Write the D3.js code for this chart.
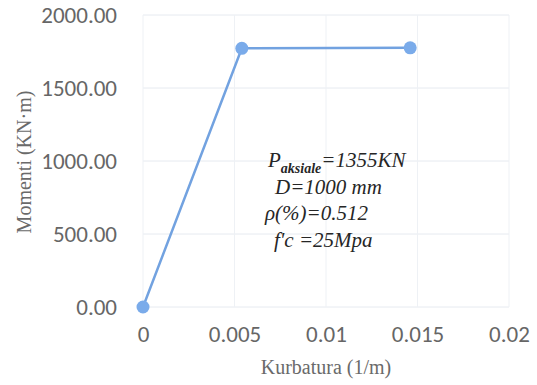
<!DOCTYPE html>
<html><head><meta charset="utf-8">
<script src="https://cdn.jsdelivr.net/npm/d3@7"></script>
<style>body{margin:0;background:#fff}svg{display:block}</style>
</head><body>
<script>
const curvature = [0, 0.0054, 0.0146];
const moment = [0, 1772, 1775];
const xTicks = [0, 0.005, 0.01, 0.015, 0.02];
const xTickLabels = ["0", "0.005", "0.01", "0.015", "0.02"];
const yTicks = [0, 500, 1000, 1500, 2000];
const yTickLabels = ["0.00", "500.00", "1000.00", "1500.00", "2000.00"];
const annotation = [
  {main: "P", sub: "aksiale", rest: "=1355KN"},
  {main: "D=1000 mm"},
  {main: "ρ(%)=0.512"},
  {main: "f'c =25Mpa"}
];

const W = 537, H = 385;
const svg = d3.select("body").append("svg").attr("width", W).attr("height", H);
const x = d3.scaleLinear().domain([0, 0.02]).range([143, 509]);
const y = d3.scaleLinear().domain([0, 2000]).range([307, 15]);

// grid
svg.append("g").selectAll("line").data(yTicks).join("line")
  .attr("x1", x(0)).attr("x2", x(0.02))
  .attr("y1", d => y(d)).attr("y2", d => y(d))
  .attr("stroke", "#e6eaf0").attr("stroke-width", 1);
svg.append("g").selectAll("line").data(xTicks).join("line")
  .attr("y1", y(0)).attr("y2", y(2000))
  .attr("x1", d => x(d)).attr("x2", d => x(d))
  .attr("stroke", "#eef1f5").attr("stroke-width", 1);

const tickFont = "Carlito, 'Open Sans', sans-serif";
// axes labels
const yAxis = d3.axisLeft(y).tickValues(yTicks).tickFormat((d, i) => yTickLabels[i]).tickSize(0).tickPadding(26);
const gy = svg.append("g").attr("transform", `translate(${x(0)},0)`).call(yAxis);
gy.select(".domain").remove();
gy.selectAll("text").attr("font-family", tickFont).attr("font-size", 23).attr("fill", "#666");

const xAxis = d3.axisBottom(x).tickValues(xTicks).tickFormat((d, i) => xTickLabels[i]).tickSize(0).tickPadding(19);
const gx = svg.append("g").attr("transform", `translate(0,${y(0)})`).call(xAxis);
gx.select(".domain").remove();
gx.selectAll("text").attr("font-family", tickFont).attr("font-size", 23).attr("fill", "#666");

// axis titles
svg.append("text").attr("x", 326).attr("y", 374).attr("text-anchor", "middle")
  .attr("font-family", "'Liberation Serif', 'Times New Roman', serif").attr("font-size", 20).attr("fill", "#6a6a6a")
  .text("Kurbatura (1/m)");
svg.append("text").attr("transform", "translate(31,162) rotate(-90)").attr("text-anchor", "middle")
  .attr("font-family", "'Liberation Serif', 'Times New Roman', serif").attr("font-size", 20).attr("fill", "#6a6a6a")
  .text("Momenti (KN·m)");

// line
const pts = curvature.map((c, i) => [c, moment[i]]);
svg.append("path").datum(pts)
  .attr("d", d3.line().x(d => x(d[0])).y(d => y(d[1])))
  .attr("fill", "none").attr("stroke", "#72a2e0").attr("stroke-width", 2.5);
svg.append("g").selectAll("circle").data(pts).join("circle")
  .attr("cx", d => x(d[0])).attr("cy", d => y(d[1])).attr("r", 6.5)
  .attr("fill", "#7aabea");

// annotation
const ann = svg.append("g").attr("font-family", "'Liberation Serif', 'Times New Roman', serif")
  .attr("font-style", "italic").attr("font-size", 21).attr("fill", "#262626");
const annX = [268, 275, 265, 274];
const annY = [167, 194, 220, 247];
annotation.forEach((a, i) => {
  const t = ann.append("text").attr("x", annX[i]).attr("y", annY[i]);
  t.append("tspan").text(a.main);
  if (a.sub) {
    t.append("tspan").attr("font-size", 14).attr("font-weight", "bold").attr("dy", 6).text(a.sub);
    t.append("tspan").attr("dy", -6).text(a.rest);
  }
});
</script>
</body></html>
